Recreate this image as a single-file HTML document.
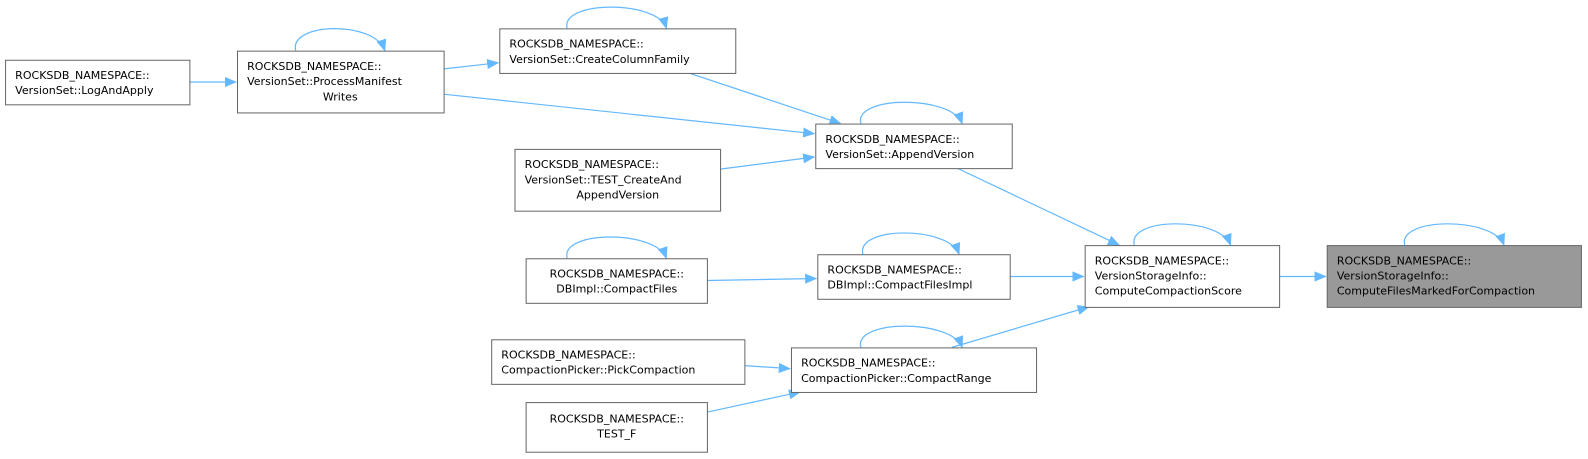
<!DOCTYPE html><html><head><style>body{margin:0;background:#fff}svg{display:block}text{font-family:"DejaVu Sans","Liberation Sans",sans-serif;font-size:10.9px;fill:#000}</style></head><body>
<svg width="1588" height="459" viewBox="0 0 1568 453.2" preserveAspectRatio="none">
<defs><marker id="a" markerWidth="12" markerHeight="10" refX="11" refY="5" orient="auto" markerUnits="userSpaceOnUse"><path d="M0,0 L12,5 L0,10z" fill="#63b8ff"/></marker></defs>
<g fill="none" stroke="#63b8ff" stroke-width="1.2" marker-end="url(#a)">
<path d="M187,81 L233,81"/>
<path d="M438,68 L492,62"/>
<path d="M438,93 L804,132"/>
<path d="M680,72 L830,122"/>
<path d="M711,167 L804,155"/>
<path d="M945,166 L1105,242"/>
<path d="M698,277 L806,275"/>
<path d="M997,273 L1070,273"/>
<path d="M940,343 L1075,303"/>
<path d="M735,361 L780,364"/>
<path d="M698,407 L790,387"/>
<path d="M1263,273 L1309,273"/>
<path d="M292,50 C285,22 370,20 380,50"/>
<path d="M560,28 C553,0 650,0 658,28"/>
<path d="M850,122 C843,94 940,94 950,122"/>
<path d="M852,251 C845,223 937,223 947,251"/>
<path d="M1120,242 C1113,214 1205,214 1215,242"/>
<path d="M1387,242 C1380,214 1475,214 1485,242"/>
<path d="M560,255 C553,227 648,227 658,255"/>
<path d="M850,343 C843,315 940,315 950,343"/>
</g>
<g stroke="#666" stroke-width="1" fill="#fff">
<rect x="5.5" y="59.5" width="182" height="44"/>
<rect x="234.5" y="50.5" width="204" height="61"/>
<rect x="493.5" y="28.5" width="233" height="44"/>
<rect x="805.5" y="122.5" width="194" height="44"/>
<rect x="508.5" y="147.5" width="203" height="61"/>
<rect x="519.5" y="255.5" width="179" height="44"/>
<rect x="807.5" y="251.5" width="190" height="44"/>
<rect x="1071.5" y="242.5" width="192" height="61"/>
<rect x="1310.5" y="242.5" width="251" height="61" fill="#999"/>
<rect x="485.5" y="335.5" width="250" height="44"/>
<rect x="781.5" y="343.5" width="242" height="44"/>
<rect x="519.5" y="397.5" width="179" height="49"/>
</g>
<text x="15" y="78">ROCKSDB_NAMESPACE::</text><text x="15" y="93">VersionSet::LogAndApply</text>
<text x="244" y="69">ROCKSDB_NAMESPACE::</text><text x="244" y="84">VersionSet::ProcessManifest</text><text x="336" y="99" text-anchor="middle">Writes</text>
<text x="503" y="47">ROCKSDB_NAMESPACE::</text><text x="503" y="62">VersionSet::CreateColumnFamily</text>
<text x="815" y="141">ROCKSDB_NAMESPACE::</text><text x="815" y="156">VersionSet::AppendVersion</text>
<text x="518" y="166">ROCKSDB_NAMESPACE::</text><text x="518" y="181">VersionSet::TEST_CreateAnd</text><text x="610" y="196" text-anchor="middle">AppendVersion</text>
<text x="609" y="274" text-anchor="middle">ROCKSDB_NAMESPACE::</text><text x="609" y="289" text-anchor="middle">DBImpl::CompactFiles</text>
<text x="817" y="270">ROCKSDB_NAMESPACE::</text><text x="817" y="285">DBImpl::CompactFilesImpl</text>
<text x="1081" y="261">ROCKSDB_NAMESPACE::</text><text x="1081" y="276">VersionStorageInfo::</text><text x="1081" y="291">ComputeCompactionScore</text>
<text x="1320" y="261">ROCKSDB_NAMESPACE::</text><text x="1320" y="276">VersionStorageInfo::</text><text x="1320" y="291">ComputeFilesMarkedForCompaction</text>
<text x="495" y="354">ROCKSDB_NAMESPACE::</text><text x="495" y="369">CompactionPicker::PickCompaction</text>
<text x="791" y="362">ROCKSDB_NAMESPACE::</text><text x="791" y="377">CompactionPicker::CompactRange</text>
<text x="609" y="417" text-anchor="middle">ROCKSDB_NAMESPACE::</text><text x="609" y="432" text-anchor="middle">TEST_F</text>
</svg></body></html>
